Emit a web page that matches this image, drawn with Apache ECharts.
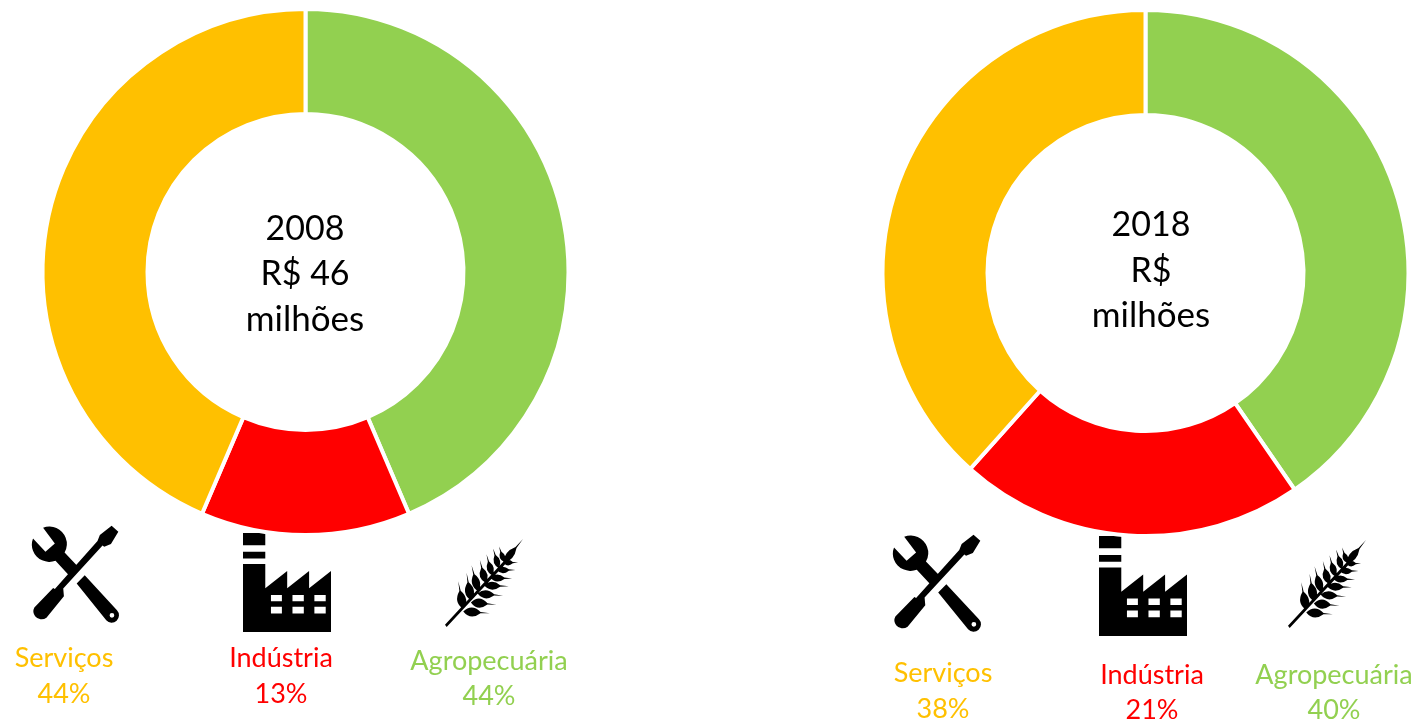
<!DOCTYPE html>
<html style="height: 100%">
<head>
    <meta charset="UTF-8">
    <title>Valor da produção 2008 e 2018</title>
    <script src="https://cdnjs.cloudflare.com/ajax/libs/echarts/6.0.0/echarts.min.js"></script>
</head>
<body style="height: 100%; margin: 0; background: #fff">
    <div id="main" style="width: 1414px; height: 725px"></div>
    <script type="text/javascript">
        // dados
        const categories = ['Agropecuária', 'Indústria', 'Serviços'];
        const values2008 = [44, 13, 44];
        const values2018 = [40, 21, 38];
        const centerText2008 = ['2008', 'R$ 46', 'milhões'];
        const centerText2018 = ['2018', 'R$', 'milhões'];
        const colors = ['#92D050', '#FF0000', '#FFC000'];

        const FONT = 'Lato, Carlito, Calibri, sans-serif';

        // icones: desenhados em coordenadas locais e escalados no icon()
        const wrenchIcon =
            'M68 23 A52 52 0 0 1 132 97 L168 135 L142 162 L105 122 A52 52 0 0 1 38 55 L75 95 L103 70 Z ' +
            'M168 190 L192 165 L288 270 A21 21 0 0 1 256 300 Z ' +
            'M266 285 A7 7 0 1 0 280 285 A7 7 0 1 0 266 285 Z ' +
            'M272 17 L292 35 L270 72 L250 80 L245 76 L128 205 L130 228 L78 292 A24 24 0 0 1 42 262 L98 203 L103 206 L230 63 L237 45 Z';

        const factoryIcon =
            'M0 0 H59 V37 H0 Z M0 57 H59 V77 H0 Z ' +
            'M0 94 H59 V167 L117 115 V167 L175 115 V167 L233 115 V299 H0 Z ' +
            'M74 187 V206 H103 V187 Z M131 187 V206 H161 V187 Z M189 187 V206 H219 V187 Z ' +
            'M74 223 V243 H103 V223 Z M131 223 V243 H161 V223 Z M189 223 V243 H219 V223 Z';

        // [base x, base y, ponta x, ponta y, largura]
        const grainLeaves = [
            [85, 238, 70, 155, 20], [108, 212, 95, 130, 20], [130, 185, 110, 108, 18],
            [152, 160, 135, 92, 17], [172, 138, 155, 75, 15], [192, 116, 175, 58, 14], [208, 98, 193, 52, 12],
            [85, 245, 165, 250, 20], [108, 218, 185, 225, 20], [128, 192, 205, 198, 18],
            [148, 168, 222, 170, 17], [166, 145, 232, 147, 15], [186, 122, 242, 122, 14], [205, 100, 250, 100, 12],
            [205, 102, 265, 30, 16]
        ];

        function leafPath(l) {
            const dx = l[2] - l[0], dy = l[3] - l[1];
            const len = Math.sqrt(dx * dx + dy * dy);
            const nx = -dy / len, ny = dx / len;
            const w = l[4];
            const p = (t, s) => (l[0] + dx * t + nx * s).toFixed(1) + ' ' + (l[1] + dy * t + ny * s).toFixed(1);
            return 'M' + p(0, 0) + ' Q' + p(0.3, w * 1.3) + ' ' + p(0.65, 2) + ' L' + p(1, 0) +
                ' L' + p(0.65, -2) + ' Q' + p(0.3, -w * 1.3) + ' ' + p(0, 0) + ' Z';
        }
        const grainIcon = grainLeaves.map(leafPath).join(' ') + ' M30 284 L35 291 L216 100 L209 94 Z';

        echarts.graphic.registerShape('iconWrench', echarts.graphic.extendPath(wrenchIcon, {}));
        echarts.graphic.registerShape('iconFactory', echarts.graphic.extendPath(factoryIcon, {}));
        echarts.graphic.registerShape('iconGrain', echarts.graphic.extendPath(grainIcon, {}));

        // caixa local de cada icone [x, y, largura, altura]
        const iconBox = {
            iconWrench: [35, 15, 259, 290],
            iconFactory: [0, 0, 233, 299],
            iconGrain: [30, 30, 235, 261]
        };

        function icon(name, x, y, width, height) {
            const b = iconBox[name];
            const sx = width / b[2], sy = height / b[3];
            return {
                type: name,
                x: x - b[0] * sx,
                y: y - b[1] * sy,
                scaleX: sx,
                scaleY: sy,
                style: {fill: '#000'},
                silent: true
            };
        }

        function text(str, x, y, size, color) {
            return {
                type: 'text',
                x: x,
                y: y,
                silent: true,
                style: {
                    text: str,
                    fill: color,
                    font: size + 'px ' + FONT,
                    align: 'center',
                    verticalAlign: 'middle'
                }
            };
        }

        function donut(values, cx, cy) {
            return {
                type: 'pie',
                center: [cx, cy],
                radius: [158, 263],
                startAngle: 90,
                clockwise: true,
                silent: true,
                animation: false,
                label: {show: false},
                labelLine: {show: false},
                itemStyle: {borderColor: '#fff', borderWidth: 4},
                data: categories.map((name, i) => ({
                    name: name,
                    value: values[i],
                    itemStyle: {color: colors[i]}
                }))
            };
        }

        const elements = [
            text(centerText2008[0], 305, 229, 34, '#000'),
            text(centerText2008[1], 305, 274, 34, '#000'),
            text(centerText2008[2], 305, 320, 35, '#000'),
            text(centerText2018[0], 1151, 225, 34, '#000'),
            text(centerText2018[1], 1151, 271, 34, '#000'),
            text(centerText2018[2], 1151, 316, 35, '#000'),

            icon('iconWrench', 32, 525, 87, 97),
            icon('iconFactory', 243, 533, 88, 99),
            icon('iconGrain', 445, 539, 78, 88),
            icon('iconWrench', 893, 534, 88, 97),
            icon('iconFactory', 1099, 536, 88, 100),
            icon('iconGrain', 1288, 540, 78, 88),

            text(categories[2], 64, 658, 27, colors[2]),
            text(values2008[2] + '%', 64, 694, 27, colors[2]),
            text(categories[1], 281, 658, 27, colors[1]),
            text(values2008[1] + '%', 281, 694, 27, colors[1]),
            text(categories[0], 489, 661, 27, colors[0]),
            text(values2008[0] + '%', 489, 696, 27, colors[0]),

            text(categories[2], 943, 673, 27, colors[2]),
            text(values2018[2] + '%', 943, 709, 27, colors[2]),
            text(categories[1], 1152, 675, 27, colors[1]),
            text(values2018[1] + '%', 1152, 710, 27, colors[1]),
            text(categories[0], 1334, 675, 27, colors[0]),
            text(values2018[0] + '%', 1334, 710, 27, colors[0])
        ];

        const myChart = echarts.init(document.getElementById('main'), null, {renderer: 'canvas'});
        myChart.setOption({
            animation: false,
            backgroundColor: '#fff',
            series: [donut(values2008, 305.5, 272), donut(values2018, 1145.5, 273)],
            graphic: {elements: elements}
        });
    </script>
</body>
</html>
